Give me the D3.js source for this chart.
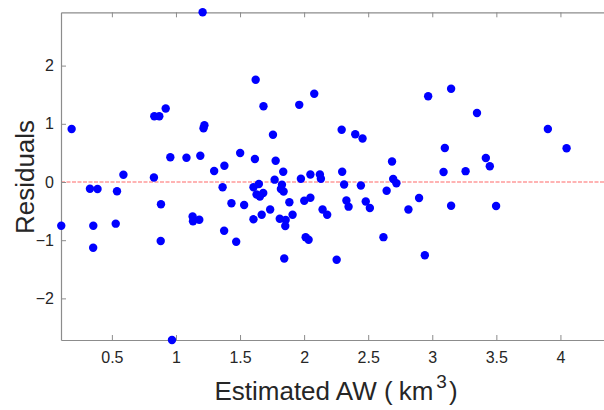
<!DOCTYPE html>
<html>
<head>
<meta charset="utf-8">
<script src="https://cdn.jsdelivr.net/npm/d3@7"></script>
<style>
  html, body { margin: 0; padding: 0; background: #fff; }
  svg { display: block; font-family: "Liberation Sans", Arial, sans-serif; }
</style>
</head>
<body>
<svg id="chart" width="604" height="410"></svg>
<script>
// Estimated AW (km^3) values
const estimatedAW = [
  1.208, 0.186, 0.831, 0.870, 0.920, 1.622, 1.683, 1.962, 2.079, 1.215,
  1.222, 1.757, 0.956, 1.082, 1.190, 1.501, 1.616, 1.778, 1.298, 1.378,
  1.837, 0.828, 0.590, 1.770, 1.975, 2.049, 2.123, 2.131, 0.329, 0.388,
  0.540, 1.364, 1.605, 1.647, 1.827, 1.819, 1.840, 0.883, 0.105, 0.355,
  0.530, 0.881, 0.354, 0.969, 1.130, 1.133, 1.182, 1.433, 1.532, 1.376,
  1.470, 1.629, 1.655, 1.681, 1.605, 1.669, 1.735, 1.885, 1.910, 1.810,
  1.856, 1.853, 1.845, 2.001, 2.049, 2.012, 2.035, 2.293, 2.399, 2.456,
  2.297, 2.312, 2.443, 2.644, 2.330, 2.347, 2.481, 2.513, 2.144, 2.180,
  2.619, 2.254, 2.686, 2.695, 2.720, 2.897, 2.814, 2.942, 2.968, 3.147,
  3.349, 3.098, 3.418, 3.449, 3.088, 3.260, 3.147, 3.498, 3.902, 4.048
];
// Residuals
const residuals = [
  2.916, 0.911, 1.129, 1.129, 1.263, 1.758, 1.301, 1.326, 1.517, 0.924,
  0.976, 0.813, 0.426, 0.416, 0.450, 0.498, 0.395, 0.366, 0.189, 0.280,
  0.177, 0.077, 0.124, 0.040, 0.055, 0.129, 0.129, 0.057, -0.115, -0.120,
  -0.160, -0.091, -0.091, -0.034, -0.048, -0.120, -0.163, -0.383, -0.751, -0.751,
  -0.716, -1.014, -1.131, -2.715, -0.593, -0.675, -0.649, -0.366, -0.395, -0.837,
  -1.026, -0.215, -0.249, -0.189, -0.641, -0.562, -0.473, -0.347, -0.564, -0.631,
  -0.653, -0.756, -1.314, -0.323, -0.271, -0.948, -0.993, 0.899, 0.820, 0.747,
  0.175, -0.043, -0.060, -0.151, -0.318, -0.424, -0.335, -0.447, -0.473, -0.562,
  -0.948, -1.335, 0.352, 0.052, -0.022, -0.275, -0.473, -1.259, 1.473, 1.603,
  1.186, 0.584, 0.412, 0.271, 0.172, 0.186, -0.407, -0.412, 0.911, 0.579
];
const xTicks = [0.5, 1, 1.5, 2, 2.5, 3, 3.5, 4];
const yTicks = [-2, -1, 0, 1, 2];
const xDomain = [0.103, 4.34];
const yDomain = [-2.715, 2.916];

(function () {
  const svg = d3.select("#chart");
  const L = 61, R = 604, T = 12.3, B = 340;

  const x = d3.scaleLinear().domain(xDomain).range([L, R]);
  const y = d3.scaleLinear().domain(yDomain).range([B, T]);

  const fmt = d => String(d).replace("-", "\u2212");
  const axisColor = "#8c8c8c";
  const textColor = "#262626";

  function styleAxis(g) {
    g.select(".domain").attr("stroke", axisColor).attr("stroke-width", 1.2);
    g.selectAll(".tick line").attr("stroke", axisColor).attr("stroke-width", 1);
    g.selectAll(".tick text").attr("fill", textColor).style("font-size", "16px")
      .style("font-family", "'Liberation Sans', Arial, sans-serif");
  }

  // zero line
  svg.append("line")
    .attr("x1", L).attr("x2", R)
    .attr("y1", y(0)).attr("y2", y(0))
    .attr("stroke", "#ff9a9a").attr("stroke-width", 1.3)
    .attr("stroke-dasharray", "4,1.5");

  // bottom axis
  svg.append("g")
    .attr("transform", `translate(0,${B})`)
    .call(d3.axisBottom(x).tickValues(xTicks).tickFormat(fmt)
      .tickSizeInner(-5).tickSizeOuter(0).tickPadding(12))
    .call(styleAxis);

  // top axis (mirror box)
  svg.append("g")
    .attr("transform", `translate(0,${T})`)
    .call(d3.axisTop(x).tickValues(xTicks).tickFormat("")
      .tickSizeInner(-5).tickSizeOuter(0))
    .call(styleAxis);

  // left axis
  svg.append("g")
    .attr("transform", `translate(${L},0)`)
    .call(d3.axisLeft(y).tickValues(yTicks).tickFormat(fmt)
      .tickSizeInner(-5).tickSizeOuter(0).tickPadding(7))
    .call(styleAxis);

  // points
  const pts = estimatedAW.map((v, i) => ({ x: v, y: residuals[i] }));
  svg.append("g").selectAll("circle").data(pts).join("circle")
    .attr("cx", d => x(d.x))
    .attr("cy", d => y(d.y))
    .attr("r", 4.2)
    .attr("fill", "#0000ff");

  // x label
  const xl = svg.append("text")
    .attr("x", 336).attr("y", 400)
    .attr("text-anchor", "middle")
    .attr("fill", textColor)
    .style("font-size", "26px");
  xl.append("tspan").text("Estimated AW (");
  xl.append("tspan").attr("dx", 6).text("km");
  xl.append("tspan").attr("dy", -12).style("font-size", "19px").attr("dx", 3).text("3");
  xl.append("tspan").attr("dy", 12).attr("dx", 2).text(")");

  // y label
  svg.append("text")
    .attr("transform", `translate(33.5,177) rotate(-90)`)
    .attr("text-anchor", "middle")
    .attr("fill", textColor)
    .style("font-size", "26px")
    .text("Residuals");
})();
</script>
</body>
</html>
